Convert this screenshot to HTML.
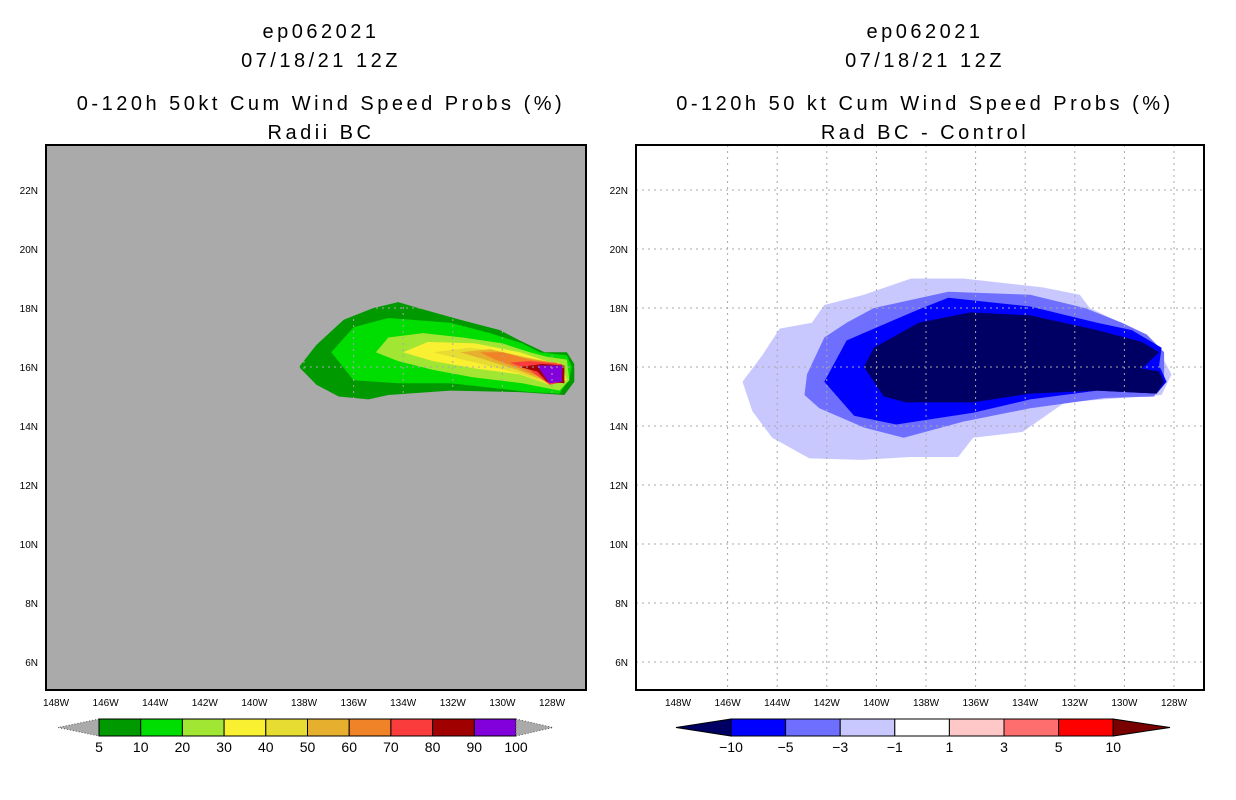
<!DOCTYPE html>
<html><head><meta charset="utf-8"><style>
body{margin:0;background:#fff;width:1236px;height:800px;overflow:hidden}
svg{display:block}
text{font-family:"Liberation Sans",sans-serif}
</style></head><body>
<svg id="s" width="1236" height="800"></svg>
<script>
const lonTicks=[148,146,144,142,140,138,136,134,132,130,128];
const latTicks=[6,8,10,12,14,16,18,20,22];
// left panel probability contours (lon W, lat N)
const probLevels=[5,10,20,30,40,50,60,70,80,90];
const probColors=["#009900","#00dd00","#a0e632","#faf032","#e6dc32","#e6af2d","#f08228","#fa3c3c","#a00000","#8200dc"];
const probPolys=[
[[138.2,16.0],[137.5,16.75],[136.4,17.6],[135.2,18.0],[134.2,18.2],[133.4,18.0],[131.7,17.6],[130.1,17.25],[129.3,16.9],[128.3,16.5],[127.4,16.5],[127.1,16.1],[127.1,15.5],[127.5,15.05],[129.3,15.15],[132.1,15.2],[134.6,15.05],[135.4,14.9],[136.6,15.0],[137.5,15.4]],
[[136.9,16.5],[136.0,17.35],[134.6,17.66],[132.1,17.5],[130.5,17.15],[129.2,16.8],[128.5,16.5],[127.4,16.4],[127.2,16.0],[127.3,15.6],[127.7,15.1],[128.9,15.15],[130.5,15.3],[132.1,15.45],[134.2,15.45],[136.0,15.55]],
[[135.1,16.5],[134.6,17.0],[133.2,17.15],[131.6,17.0],[130.0,16.8],[128.9,16.5],[128.2,16.35],[127.4,16.25],[127.3,15.55],[127.7,15.2],[129.2,15.45],[131.2,15.65],[132.8,15.9],[134.2,16.2]],
[[134.0,16.5],[133.0,16.85],[131.1,16.8],[129.3,16.5],[128.4,16.25],[127.6,16.05],[127.4,15.55],[128.1,15.4],[129.3,15.75],[131.1,15.95],[132.8,16.2]],
[[132.8,16.5],[131.3,16.65],[129.9,16.5],[128.6,16.25],[127.7,16.15],[127.6,15.55],[128.2,15.45],[129.4,15.8],[131.1,16.15]],
[[131.7,16.5],[130.5,16.6],[129.2,16.35],[128.0,16.15],[127.7,15.6],[128.2,15.5],[129.4,15.9],[130.7,16.25]],
[[130.9,16.5],[130.0,16.5],[128.9,16.25],[127.8,16.15],[127.7,15.65],[128.2,15.55],[129.3,15.95],[130.3,16.25]],
[[129.7,16.15],[128.9,16.2],[127.6,16.1],[127.5,15.5],[128.1,15.4],[128.9,15.9]],
[[129.3,16.0],[128.4,16.1],[127.5,16.05],[127.5,15.45],[128.2,15.5],[128.6,15.85]],
[[128.6,16.05],[127.6,16.05],[127.6,15.5],[128.1,15.45],[128.4,15.8]]
];
// right panel difference contours
const diffLevels=[-1,-3,-5,-10];
const diffColors=["#c8c8ff","#6e6eff","#0000ff","#000064"];
const diffPolys=[
[[145.4,15.5],[144.6,16.4],[143.9,17.3],[142.6,17.5],[142.1,18.1],[140.5,18.45],[138.6,19.0],[136.5,19.0],[133.3,18.7],[131.8,18.45],[131.4,18.0],[129.9,17.4],[128.8,16.85],[128.1,15.75],[128.5,15.05],[130.1,14.95],[132.4,14.8],[134.1,13.8],[136.1,13.6],[136.7,12.95],[138.6,12.95],[140.6,12.85],[142.7,12.9],[144.2,13.6],[145.0,14.5]],
[[142.9,15.05],[142.8,15.75],[142.1,17.0],[141.2,17.5],[140.1,18.0],[137.1,18.55],[133.8,18.45],[131.6,18.0],[130.1,17.5],[129.1,17.1],[128.4,16.5],[128.4,15.65],[128.8,15.0],[130.8,14.95],[133.8,14.6],[136.5,14.15],[138.9,13.6],[140.5,13.95],[142.3,14.6]],
[[142.1,15.5],[141.2,16.9],[140.1,17.3],[138.3,17.95],[137.1,18.35],[133.8,18.05],[131.1,17.5],[129.7,17.25],[128.5,16.65],[128.6,16.05],[128.3,15.5],[128.7,15.1],[131.1,15.2],[133.8,14.9],[136.1,14.45],[139.2,14.05],[140.9,14.35]],
[[140.5,16.0],[140.1,16.65],[138.3,17.5],[136.2,17.85],[133.8,17.75],[131.1,17.25],[129.3,16.85],[128.6,16.5],[129.3,15.95],[128.6,15.85],[128.4,15.5],[128.7,15.1],[131.1,15.2],[133.8,15.1],[136.1,14.8],[138.8,14.8],[139.7,15.0]]
];
const cbLeftLabels=["5","10","20","30","40","50","60","70","80","90","100"];
const cbRightColors=["#000064","#0000ff","#6e6eff","#c8c8ff","#ffffff","#ffc8c8","#ff6e6e","#ff0000"];
const cbRightLabels=["-10","-5","-3","-1","1","3","5","10"];

const NS="http://www.w3.org/2000/svg";
const svg=document.getElementById('s');
function el(t,a,p){const e=document.createElementNS(NS,t);for(const k in a)e.setAttribute(k,a[k]);(p||svg).appendChild(e);return e;}
function yS(lat){return 190+(22-lat)*29.5;}
function txt(x,y,s,size,anchor,name){const t=el('text',{x:x,y:y,'font-size':size,'text-anchor':anchor||'middle',fill:'#000'});t.textContent=s;

return t;}

function panel(fx,fw,x148,bg,polys,colors,titles,pname){
  const xS=lon=>x148+(148-lon)*24.8;
  const g=el('g',{});
  
  
  const cx=fx+fw/2+3;
  titles.forEach((t,i)=>{const tt=txt(cx+2,[38,67,110,139][i],t,20,'middle',pname+'-title-'+(i+1));tt.setAttribute('letter-spacing','3.5');g.appendChild(tt);});
  const r=el('rect',{x:fx,y:145,width:fw,height:545,fill:bg},g);
  
  
  polys.forEach((p,i)=>{const pl=el('polygon',{points:p.map(q=>xS(q[0]).toFixed(1)+','+yS(q[1]).toFixed(1)).join(' '),fill:colors[i]},g);
    
    });
  lonTicks.forEach(l=>{const x=xS(l);if(l!==148){const ln=el('line',{x1:x,y1:145,x2:x,y2:690,stroke:'#a8a8a8','stroke-dasharray':'2,4'},g);
    }
    const t=txt(x,706,l+'W',10,'middle','lon-tick-label');g.appendChild(t);});
  latTicks.forEach(l=>{const y=yS(l);const ln=el('line',{x1:fx,y1:y,x2:fx+fw,y2:y,stroke:'#a8a8a8','stroke-dasharray':'2,4'},g);
    
    const t=txt(fx-8,y+4,l+'N',10,'end','lat-tick-label');g.appendChild(t);});
  const f=el('rect',{x:fx,y:145,width:fw,height:545,fill:'none',stroke:'#000','stroke-width':2},g);
  
}
panel(46,540,56,'#aaaaaa',probPolys,probColors,['ep062021','07/18/21 12Z','0-120h 50kt Cum Wind Speed Probs (%)','Radii BC'],'left-panel');
panel(636,568,678,'#ffffff',diffPolys,diffColors,['ep062021','07/18/21 12Z','0-120h 50 kt Cum Wind Speed Probs (%)','Rad BC - Control'],'right-panel');

// left colorbar
(function(){const x0=99,w=41.7,y=719,h=17;
 const lt=el('polygon',{points:`${x0},${y} 58,${y+h/2} ${x0},${y+h}`,fill:'#aaaaaa',stroke:'#555','stroke-dasharray':'1,2'});
 
 probColors.forEach((c,i)=>{const r=el('rect',{x:x0+i*w,y:y,width:w,height:h,fill:c,stroke:'#000'});
  });
 const x1=x0+probColors.length*w;
 const rt=el('polygon',{points:`${x1},${y} 553,${y+h/2} ${x1},${y+h}`,fill:'#aaaaaa',stroke:'#555','stroke-dasharray':'1,2'});
 
 cbLeftLabels.forEach((s,i)=>txt(x0+i*w,752,s,14,'middle','left-colorbar-label'));
})();
// right colorbar
(function(){const x0=731,w=54.6,y=719,h=17;
 const lt=el('polygon',{points:`${x0},${y} 676,${y+h/2} ${x0},${y+h}`,fill:'#000064',stroke:'#000'});
 
 cbRightColors.slice(1).forEach((c,i)=>{const r=el('rect',{x:x0+i*w,y:y,width:w,height:h,fill:c,stroke:'#000'});
  });
 const x1=x0+(cbRightColors.length-1)*w;
 const rt=el('polygon',{points:`${x1},${y} 1170,${y+h/2} ${x1},${y+h}`,fill:'#780000',stroke:'#000'});
 
 cbRightLabels.forEach((s,i)=>txt(x0+i*w,752,s.replace('-','\u2212'),14,'middle','right-colorbar-label'));
})();
</script>
</body></html>
